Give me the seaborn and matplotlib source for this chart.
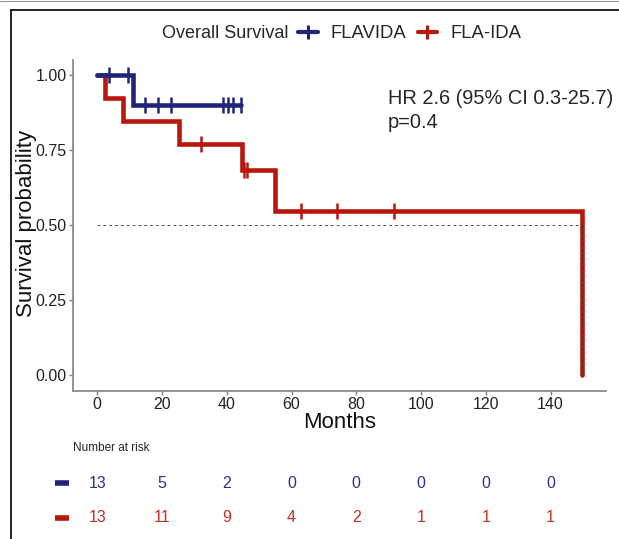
import numpy as np
import pandas as pd
import matplotlib
matplotlib.use("Agg")
import matplotlib.pyplot as plt
import matplotlib.transforms as mtransforms
from matplotlib.lines import Line2D
import seaborn as sns

# Kaplan-Meier step data (months, survival)
flavida_time = [0, 11.0, 44.3]
flavida_surv = [1.0, 0.90, 0.90]
flavida_cens_time = [3.7, 9.5, 14.6, 18.7, 22.7, 38.8, 40.4, 41.9, 44.3]
flavida_cens_surv = [1.0, 1.0, 0.90, 0.90, 0.90, 0.90, 0.90, 0.90, 0.90]

flaida_time = [0, 2.3, 7.9, 25.4, 44.8, 55.0, 149.6]
flaida_surv = [1.0, 0.923, 0.846, 0.769, 0.684, 0.547, 0.0]
flaida_cens_time = [31.9, 45.3, 46.4, 63.0, 73.9, 91.7]
flaida_cens_surv = [0.769, 0.684, 0.684, 0.547, 0.547, 0.547]

risk_times = [0, 20, 40, 60, 80, 100, 120, 140]
risk_flavida = [13, 5, 2, 0, 0, 0, 0, 0]
risk_flaida = [13, 11, 9, 4, 2, 1, 1, 1]

groups = ["FLAVIDA", "FLA-IDA"]
colors = {"FLAVIDA": "#1F2478", "FLA-IDA": "#B8170D"}
text_colors = {"FLAVIDA": "#2B3285", "FLA-IDA": "#C42F24"}
median_time = 149.6

sns.set_style("white")
plt.rcParams["font.family"] = ["Liberation Sans", "DejaVu Sans"]

fig = plt.figure(figsize=(6.19, 5.39), dpi=100)
ax = fig.add_axes([73 / 619, 1 - 390.7 / 539, (606 - 73) / 619, (390.7 - 60) / 539])

curves = pd.concat([
    pd.DataFrame({"time": flaida_time, "surv": flaida_surv, "group": "FLA-IDA"}),
    pd.DataFrame({"time": flavida_time, "surv": flavida_surv, "group": "FLAVIDA"}),
])
cens = pd.concat([
    pd.DataFrame({"time": flaida_cens_time, "surv": flaida_cens_surv, "group": "FLA-IDA"}),
    pd.DataFrame({"time": flavida_cens_time, "surv": flavida_cens_surv, "group": "FLAVIDA"}),
])

for g in ["FLA-IDA", "FLAVIDA"]:
    sub = curves[curves.group == g]
    sns.lineplot(data=sub, x="time", y="surv", ax=ax, color=colors[g], lw=3.3,
                 drawstyle="steps-post", estimator=None, sort=False,
                 solid_joinstyle="miter", zorder=3 if g == "FLAVIDA" else 2)
    cs = cens[cens.group == g]
    ax.plot(cs.time, cs.surv, ls="none", marker="|", ms=11, mew=1.8,
            color=colors[g], zorder=4 if g == "FLAVIDA" else 3)

# median line
ax.plot([0, median_time], [0.5, 0.5], ls=(0, (3, 3)), color="#555555", lw=0.7, zorder=5)
ax.plot([median_time, median_time], [0.5, 0], ls=(0, (3, 3)), color="#333333", lw=0.7, zorder=5)

ax.set_xlim(-7.48, 157.1)
ax.set_ylim(-0.053, 1.05)
ax.set_xticks(risk_times)
ax.set_yticks([0, 0.25, 0.5, 0.75, 1.0])
ax.set_yticklabels(["0.00", "0.25", "0.50", "0.75", "1.00"])
ax.tick_params(axis="both", labelsize=11.5, colors="#7f7f7f", labelcolor="#222222",
               length=3, width=1, left=True, bottom=True, pad=1.5)
for s in ["top", "right"]:
    ax.spines[s].set_visible(False)
for s in ["left", "bottom"]:
    ax.spines[s].set_color("#8c8c8c")
    ax.spines[s].set_linewidth(1.3)
ax.set_xlabel("Months", fontsize=16, labelpad=0, color="#111111")
ax.set_ylabel("Survival probability", fontsize=16, color="#111111")
ax.yaxis.set_label_coords((37 - 73) / 533, 0.505)

ax.text(89.7, 0.923, "HR 2.6 (95% CI 0.3-25.7)", fontsize=14.4, va="center", ha="left")
ax.text(89.7, 0.842, "p=0.4", fontsize=14.4, va="center", ha="left")

# legend on top
fig.text(162 / 619, 1 - 34 / 539, "Overall Survival", fontsize=13, va="center", ha="left")
handles = [Line2D([], [], color=colors[g], lw=3, marker="|", ms=10, mew=2.2) for g in groups]
fig.legend(handles, groups, loc="center left", bbox_to_anchor=(298 / 619, 1 - 34 / 539),
           ncol=2, frameon=False, fontsize=13.3, handlelength=1.07, handletextpad=0.7,
           columnspacing=0.6, borderpad=0, borderaxespad=0)

# number at risk table
blend = mtransforms.blended_transform_factory(ax.transData, fig.transFigure)
fig.text(73 / 619, 1 - 448 / 539, "Number at risk", fontsize=8.5, va="center", ha="left")
for g, row, ypx in [("FLAVIDA", risk_flavida, 483), ("FLA-IDA", risk_flaida, 518)]:
    y = 1 - ypx / 539
    for t, n in zip(risk_times, row):
        ax.text(t, y, str(n), transform=blend, fontsize=11.5, color=text_colors[g],
                ha="center", va="center")
    ax.plot([-11.0], [y], transform=blend, marker="_", ms=10, mew=4,
            color=colors[g], clip_on=False)

# outer frame
fig.add_artist(Line2D([11 / 619, 11 / 619], [0, 1 - 10 / 539], color="black", lw=1.2))
fig.add_artist(Line2D([11 / 619, 1], [1 - 10 / 539, 1 - 10 / 539], color="black", lw=1.2))
fig.add_artist(Line2D([0, 1], [1 - 1 / 539, 1 - 1 / 539], color="#999999", lw=0.8))

fig.savefig("out.png", dpi=100)
